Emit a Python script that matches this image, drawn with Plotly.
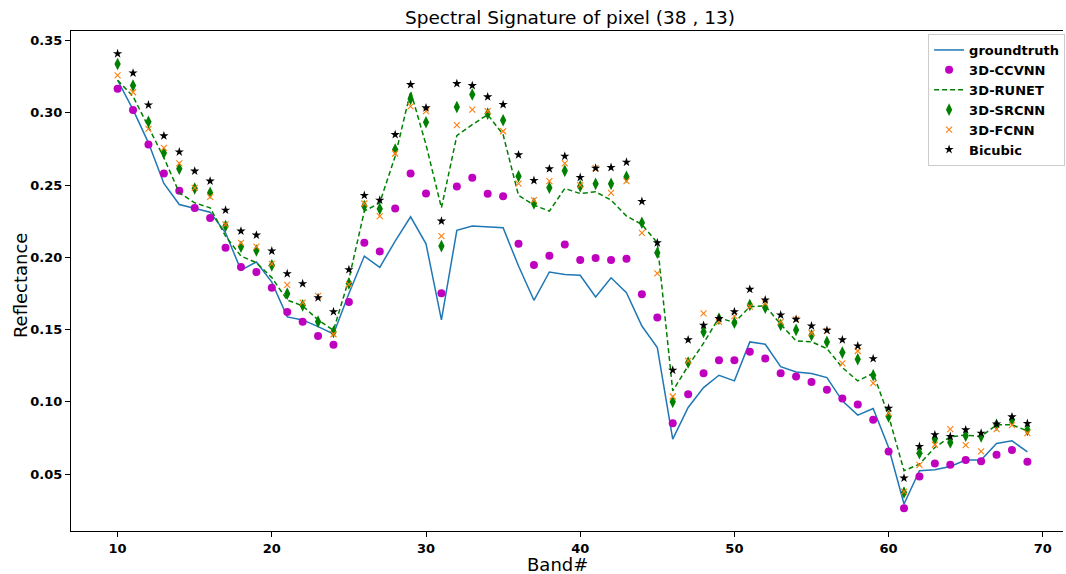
import plotly.graph_objects as go

bands = list(range(10, 70))

groundtruth = [0.3226, 0.3023, 0.2793, 0.2512, 0.2366, 0.2339, 0.2313, 0.2170, 0.1912, 0.1968,
               0.1829, 0.1588, 0.1567, 0.1521, 0.1470, 0.1750, 0.2009, 0.1931, 0.2113, 0.2281,
               0.2094, 0.1567, 0.2187, 0.2217, 0.2212, 0.2205, 0.1940, 0.1703, 0.1899, 0.1882,
               0.1876, 0.1726, 0.1859, 0.1756, 0.1525, 0.1376, 0.0742, 0.0961, 0.1099, 0.1184,
               0.1145, 0.1415, 0.1399, 0.1244, 0.1207, 0.1196, 0.1168, 0.1007, 0.0908, 0.0954,
               0.0684, 0.0293, 0.0523, 0.0530, 0.0553, 0.0597, 0.0597, 0.0712, 0.0730, 0.0654]

ccvnn = [0.3168, 0.3021, 0.2781, 0.2581, 0.2461, 0.2341, 0.2272, 0.2067, 0.1933, 0.1899,
         0.1790, 0.1622, 0.1555, 0.1456, 0.1396, 0.1691, 0.2101, 0.2041, 0.2339, 0.2581,
         0.2442, 0.1751, 0.2491, 0.2551, 0.2440, 0.2424, 0.2094, 0.1947, 0.2012, 0.2090,
         0.1982, 0.1995, 0.1982, 0.1991, 0.1744, 0.1583, 0.0852, 0.1053, 0.1198, 0.1288,
         0.1288, 0.1346, 0.1300, 0.1198, 0.1175, 0.1138, 0.1083, 0.1023, 0.0982, 0.0876,
         0.0657, 0.0263, 0.0484, 0.0574, 0.0564, 0.0597, 0.0588, 0.0634, 0.0666, 0.0585]

runet = [0.3226, 0.3115, 0.2903, 0.2690, 0.2447, 0.2378, 0.2343, 0.2147, 0.2009, 0.1963,
         0.1860, 0.1705, 0.1664, 0.1567, 0.1495, 0.1850, 0.2320, 0.2378, 0.2700, 0.3150,
         0.2780, 0.2343, 0.2843, 0.2919, 0.2988, 0.2850, 0.2429, 0.2362, 0.2320, 0.2477,
         0.2442, 0.2454, 0.2396, 0.2286, 0.2228, 0.2101, 0.1076, 0.1249, 0.1406, 0.1583,
         0.1548, 0.1659, 0.1664, 0.1537, 0.1422, 0.1415, 0.1369, 0.1237, 0.1145, 0.1198,
         0.0903, 0.0523, 0.0569, 0.0684, 0.0758, 0.0770, 0.0760, 0.0841, 0.0841, 0.0799]

srcnn = [0.3339, 0.3189, 0.2938, 0.2723, 0.2613, 0.2477, 0.2447, 0.2217, 0.2074, 0.2048,
         0.1945, 0.1749, 0.1668, 0.1555, 0.1484, 0.1820, 0.2355, 0.2336, 0.2747, 0.3097,
         0.2935, 0.2078, 0.3041, 0.3127, 0.2995, 0.2949, 0.2562, 0.2373, 0.2482, 0.2599,
         0.2493, 0.2509, 0.2509, 0.2558, 0.2240, 0.2032, 0.1000, 0.1272, 0.1484, 0.1576,
         0.1548, 0.1670, 0.1652, 0.1532, 0.1498, 0.1461, 0.1415, 0.1341, 0.1295, 0.1184,
         0.0899, 0.0373, 0.0645, 0.0742, 0.0719, 0.0765, 0.0760, 0.0841, 0.0876, 0.0806]

fcnn = [0.3260, 0.3143, 0.2889, 0.2758, 0.2650, 0.2481, 0.2419, 0.2228, 0.2101, 0.2074,
        0.1955, 0.1809, 0.1687, 0.1733, 0.1468, 0.1813, 0.2373, 0.2286, 0.2719, 0.3046,
        0.3012, 0.2147, 0.2915, 0.3023, 0.3012, 0.2873, 0.2511, 0.2396, 0.2528, 0.2650,
        0.2500, 0.2617, 0.2447, 0.2528, 0.2170, 0.1889, 0.1037, 0.1283, 0.1613, 0.1553,
        0.1594, 0.1659, 0.1682, 0.1553, 0.1571, 0.1475, 0.1491, 0.1267, 0.1352, 0.1129,
        0.0922, 0.0378, 0.0564, 0.0703, 0.0811, 0.0700, 0.0657, 0.0811, 0.0839, 0.0783]

bicubic = [0.3410, 0.3276, 0.3055, 0.2841, 0.2730, 0.2597, 0.2528, 0.2327, 0.2182, 0.2154,
           0.2044, 0.1887, 0.1818, 0.1721, 0.1624, 0.1915, 0.2429, 0.2396, 0.2850, 0.3196,
           0.3035, 0.2251, 0.3203, 0.3189, 0.3111, 0.3058, 0.2710, 0.2532, 0.2613, 0.2700,
           0.2553, 0.2617, 0.2622, 0.2659, 0.2387, 0.2101, 0.1219, 0.1429, 0.1530, 0.1576,
           0.1624, 0.1779, 0.1705, 0.1601, 0.1571, 0.1525, 0.1495, 0.1429, 0.1387, 0.1299,
           0.0956, 0.0472, 0.0691, 0.0772, 0.0760, 0.0806, 0.0783, 0.0846, 0.0896, 0.0850]

x_ticks = [10, 20, 30, 40, 50, 60, 70]
y_ticks = [0.05, 0.10, 0.15, 0.20, 0.25, 0.30, 0.35]

FONT = "DejaVu Sans"

fig = go.Figure()
fig.add_trace(go.Scatter(x=bands, y=groundtruth, mode="lines", name="groundtruth",
                         line=dict(color="#1f77b4", width=1.5)))
fig.add_trace(go.Scatter(x=bands, y=ccvnn, mode="markers", name="3D-CCVNN",
                         marker=dict(symbol="circle", size=8, color="#bf00bf", line=dict(width=0))))
fig.add_trace(go.Scatter(x=bands, y=runet, mode="lines", name="3D-RUNET",
                         line=dict(color="#008000", width=1.5, dash="5px,3px")))
fig.add_trace(go.Scatter(x=bands, y=srcnn, mode="markers", name="3D-SRCNN",
                         marker=dict(symbol="diamond-tall", size=9, color="#008000", line=dict(width=0))))
fig.add_trace(go.Scatter(x=bands, y=fcnn, mode="markers", name="3D-FCNN",
                         marker=dict(symbol="x-thin", size=6, color="#ff7f0e",
                                     line=dict(width=1.1, color="#ff7f0e"))))
fig.add_trace(go.Scatter(x=bands, y=bicubic, mode="markers", name="Bicubic",
                         marker=dict(symbol="star", size=7, color="black", line=dict(width=0))))

fig.update_layout(
    width=1066, height=574, autosize=False,
    margin=dict(l=71, r=1, t=31, b=43),
    paper_bgcolor="white", plot_bgcolor="white",
    font=dict(family=FONT, color="black"),
    showlegend=True,
    legend=dict(x=0.864, y=0.994, xanchor="left", yanchor="top",
                bgcolor="rgba(255,255,255,0.8)", bordercolor="#cccccc", borderwidth=1,
                font=dict(family=FONT, size=13, color="black", weight="bold"),
                tracegroupgap=0),
    xaxis=dict(range=[6.977, 71.31], tickvals=x_ticks, ticktext=[str(v) for v in x_ticks],
               showgrid=False, zeroline=False, showline=True, linecolor="black", linewidth=1,
               mirror=True, ticks="outside", ticklen=5, tickwidth=1, tickcolor="black",
               automargin=False,
               tickfont=dict(family=FONT, size=13, color="black", weight="bold")),
    yaxis=dict(range=[0.0106, 0.3567], tickvals=y_ticks, ticktext=["%.2f" % v for v in y_ticks],
               showgrid=False, zeroline=False, showline=True, linecolor="black", linewidth=1,
               mirror=False, ticks="outside", ticklen=5, tickwidth=1, tickcolor="black",
               automargin=False,
               tickfont=dict(family=FONT, size=13, color="black", weight="bold")),
    annotations=[
        dict(text="Spectral Signature of pixel (38 , 13)", xref="paper", yref="paper",
             x=0.503, y=1.026, xanchor="center", yanchor="middle", showarrow=False,
             font=dict(family=FONT, size=18.5, color="black")),
        dict(text="Band#", xref="paper", yref="paper", x=0.49, y=-0.066,
             xanchor="center", yanchor="middle", showarrow=False,
             font=dict(family=FONT, size=18, color="black")),
        dict(text="Reflectance", xref="paper", yref="paper", x=-0.0513, y=0.492,
             xanchor="center", yanchor="middle", showarrow=False, textangle=-90,
             font=dict(family=FONT, size=18, color="black")),
    ],
)

fig.write_html("out.html", config={"displayModeBar": False},
               post_script="document.body.style.margin='0px';document.body.style.overflow='hidden';")
